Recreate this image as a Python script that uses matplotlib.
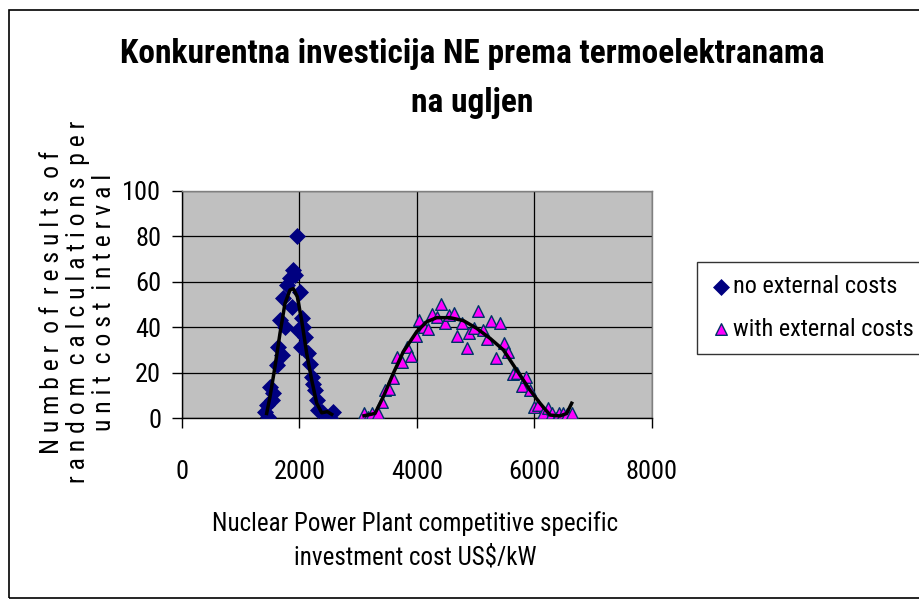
import matplotlib
matplotlib.use("Agg")
import matplotlib.pyplot as plt
from matplotlib.patches import Rectangle
from matplotlib import font_manager

# ---- data ----
no_ext_x = [1413, 1441, 1469, 1498, 1526, 1554, 1611, 1639, 1668, 1697, 1725, 1753,
            1782, 1838, 1867, 1895, 1925, 1952, 1980, 2009, 2020, 2037, 2065, 2094,
            2150, 2179, 2208, 2230, 2264, 2293, 2321, 2378, 2463, 2520, 2576]
no_ext_y = [2.8, 5.7, 0.6, 13.8, 8, 10.9, 23.3, 31.4, 43, 27.8, 53, 40,
            58.6, 61.7, 49, 65, 63, 80, 38.8, 55.6, 31.4, 44, 40, 35.8,
            28.5, 24, 18, 15, 12.3, 7.9, 3.5, 2.8, 0.6, 0, 2.8]

with_ext_x = [3098, 3172, 3228, 3342, 3410, 3455, 3529, 3597, 3665, 3750, 3824, 3892,
              3977, 4040, 4119, 4193, 4261, 4346, 4403, 4476, 4550, 4630, 4686, 4761,
              4846, 4891, 4970, 5044, 5118, 5186, 5259, 5340, 5413, 5481, 5554, 5629,
              5697, 5782, 5850, 5923, 5997, 6065, 6140, 6225, 6305, 6366, 6423, 6491,
              6560, 6633]
with_ext_y = [2, 0.6, 2, 2, 7.2, 12.3, 12.6, 17.5, 26.7, 24.8, 31.4, 27.3,
              36, 43, 40.2, 39, 46, 44.6, 50.2, 41.7, 45.4, 46.4, 36, 41.7,
              30.7, 37.6, 39.5, 47.3, 38.8, 34.7, 42.9, 26.6, 41.7, 33.2, 29.2, 19.4,
              20, 14.1, 18.2, 12.3, 5, 5.7, 2, 4.3, 2, 0, 2.3, 2,
              1.8, 2]

# trend lines
trend1_x = [1441, 1498, 1583, 1668, 1753, 1838, 1895, 1963, 2037, 2122, 2208, 2293, 2378, 2474, 2548]
trend1_y = [2, 9.4, 22.6, 37.3, 50.5, 56.4, 57, 53.4, 43, 28.5, 16.7, 6.5, 2.3, 2.8, 1.6]
trend2_x = [3098, 3285, 3427, 3597, 3767, 3994, 4165, 4335, 4561, 4789, 5016, 5243,
            5470, 5697, 5923, 6094, 6264, 6434, 6548, 6633]
trend2_y = [1, 2, 9.4, 19.7, 29.2, 38, 42.4, 44.2, 44.2, 42.9, 39.5, 35.1,
            30, 21.1, 12.3, 6.5, 1.3, 0.9, 2, 6.5]

x_ticks = [0, 2000, 4000, 6000, 8000]
y_ticks = [0, 20, 40, 60, 80, 100]

title_lines = ["Konkurentna investicija NE prema termoelektranama", "na ugljen"]
xlabel = "Nuclear Power Plant competitive specific\ninvestment cost US$/kW"
ylabel_lines = ["Number of results of", "random calculations per", "unit cost interval"]
labels = ["no external costs", "with external costs"]

# ---- fonts ----
names = {f.name for f in font_manager.fontManager.ttflist}
narrow = "Liberation Sans"
for cand in ["Arial Narrow", "Liberation Sans Narrow", "Roboto Condensed", "Archivo Narrow",
             "PT Sans Narrow", "Open Sans Condensed"]:
    if cand in names:
        narrow = cand
        break
plt.rcParams['font.family'] = [narrow, 'DejaVu Sans']


def spaced(s):
    return "  ".join(" ".join(w) for w in s.split(" "))


ylabel = "\n".join(spaced(l) for l in ylabel_lines)

W, H = 920, 605
fig = plt.figure(figsize=(W / 100, H / 100), dpi=100)
fig.patch.set_facecolor("white")

# chart border
fig.add_artist(Rectangle((9 / W, 1 - 598 / H), (W + 20) / W, (598 - 10) / H,
                         transform=fig.transFigure, fill=False, edgecolor="black", lw=1.2))

left, right, top, bottom = 182, 652, 191, 418
ax = fig.add_axes([left / W, 1 - bottom / H, (right - left) / W, (bottom - top) / H])
ax.set_facecolor("#C0C0C0")
ax.set_xlim(0, 8000)
ax.set_ylim(0, 100)
ax.set_xticks(x_ticks)
ax.set_yticks(y_ticks)
ax.grid(True, color="black", lw=0.9)
ax.set_axisbelow(True)
for s in ax.spines.values():
    s.set_color("#808080")
    s.set_linewidth(1.0)
ax.spines['bottom'].set_color("black")
ax.spines['left'].set_color("black")
ax.tick_params(axis='both', direction='out', length=7, width=1, color='black',
               labelsize=19, pad=8)
ax.tick_params(axis='x', pad=23)

ax.plot(trend1_x, trend1_y, color="black", lw=2.5, zorder=4)
ax.plot(trend2_x, trend2_y, color="black", lw=2.5, zorder=4)
h1 = ax.scatter(no_ext_x, no_ext_y, marker="D", s=75, color="#000080", zorder=3,
                label=labels[0], linewidths=0)
h2 = ax.scatter(with_ext_x, with_ext_y, marker="^", s=70, facecolor="#FF00FF",
                edgecolor="#003366", linewidths=1.0, zorder=3, label=labels[1])

fig.text(472 / W, 1 - 63 / H, title_lines[0], ha="center", va="baseline", fontsize=24,
         fontweight="bold")
fig.text(472 / W, 1 - 112 / H, title_lines[1], ha="center", va="baseline", fontsize=24,
         fontweight="bold")
fig.text(415 / W, 1 - 540 / H, xlabel, ha="center", va="center", fontsize=18,
         linespacing=1.45)
fig.text(78 / W, 1 - 302 / H, ylabel, ha="center", va="center", rotation=90,
         fontsize=18.5, linespacing=1.08)

leg = fig.legend(handles=[h1, h2], labels=labels, loc="upper left",
                 bbox_to_anchor=(697 / W, 1 - 262 / H), frameon=True, fontsize=17.5,
                 handletextpad=0.05, handlelength=0.9, borderpad=0.55, borderaxespad=0,
                 labelspacing=0.8, fancybox=False)
leg.get_frame().set_edgecolor("black")
leg.get_frame().set_linewidth(1.0)

fig.savefig("out.png", dpi=100)
